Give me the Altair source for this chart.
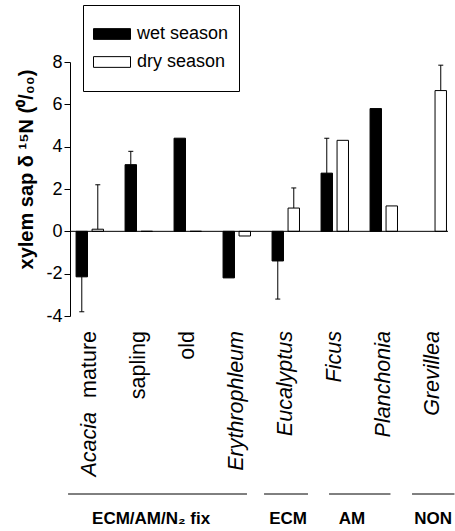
import altair as alt
import pandas as pd

FONT = "Liberation Sans"

# ---- data ----
categories = ["Acacia mature", "sapling", "old", "Erythrophleum",
              "Eucalyptus", "Ficus", "Planchonia", "Grevillea"]
seasons = ["wet season", "dry season"]
wet_values = [-2.15, 3.15, 4.4, -2.2, -1.4, 2.75, 5.8, None]
wet_err_end = [-3.8, 3.78, None, None, -3.2, 4.4, None, None]
dry_values = [0.1, 0.0, 0.0, -0.22, 1.1, 4.3, 1.2, 6.65]
dry_err_end = [2.2, None, None, None, 2.05, None, None, 7.85]
y_ticks = [-4, -2, 0, 2, 4, 6, 8]

italic_labels = ["", "", "", "Erythrophleum", "Eucalyptus", "Ficus", "Planchonia", "Grevillea"]
plain_labels = ["mature", "sapling", "old", "", "", "", "", ""]
acacia_label = ["Acacia"]
acacia_category = ["Acacia mature"]

groups = ["ECM/AM/N₂ fix", "ECM", "AM", "NON"]
group_first = ["Acacia mature", "Eucalyptus", "Ficus", "Grevillea"]
group_last = ["Erythrophleum", "Eucalyptus", "Planchonia", "Grevillea"]

# ---- tables ----
rows = []
for c, w, we, d, de in zip(categories, wet_values, wet_err_end, dry_values, dry_err_end):
    if w is not None:
        rows.append({"category": c, "season": "wet season", "value": w, "err": we})
    if d is not None:
        rows.append({"category": c, "season": "dry season", "value": d, "err": de})
bars_df = pd.DataFrame(rows)
err_df = bars_df.dropna(subset=["err"]).reset_index(drop=True)
lab_df = pd.DataFrame({"category": categories, "italic": italic_labels, "plain": plain_labels})
acacia_df = pd.DataFrame({"category": acacia_category, "text": acacia_label})
grp_df = pd.DataFrame({"group": groups, "first": group_first, "last": group_last})

W, H = 378, 254

x_scale = alt.Scale(domain=categories, paddingInner=0.44, paddingOuter=0.0774, align=0.8)
xo_scale = alt.Scale(domain=seasons, paddingInner=0.285, paddingOuter=0)
y_scale = alt.Scale(domain=[-4, 8], nice=False)

X = alt.X("category:N", scale=x_scale, axis=None)
XO = alt.XOffset("season:N", scale=xo_scale)

y_axis = alt.Axis(
    values=y_ticks, labelExpr="'' + datum.value",
    title="xylem sap δ ¹⁵N (⁰/₀₀)", titleFont=FONT, titleFontSize=20,
    titleFontWeight="bold", titleColor="black", titleAngle=270,
    titleX=-38, titleY=107, titleAlign="center", titleBaseline="alphabetic",
    labelFont=FONT, labelFontSize=18, labelColor="black", labelPadding=2,
    tickColor="black", tickSize=6, domainColor="black", grid=False,
)

legend = alt.Legend(
    title=" ", titleOrient="bottom", titleFontSize=6, titlePadding=4,
    orient="none", legendX=13, legendY=-57, direction="vertical",
    symbolType="M-1,-0.29H1V0.29H-1Z", symbolSize=1369,
    symbolStrokeColor="black", symbolStrokeWidth=1, symbolOpacity=1,
    labelFont=FONT, labelFontSize=18, labelColor="black", labelOffset=6,
    labelExpr="datum.label + '  '",
    rowPadding=0, padding=10, strokeColor="black", fillColor="white",
)

bars = alt.Chart(bars_df).mark_bar(stroke="black", strokeWidth=1).encode(
    x=X, xOffset=XO,
    y=alt.Y("value:Q", scale=y_scale, axis=y_axis, stack=None),
    fill=alt.Fill("season:N", scale=alt.Scale(domain=seasons, range=["black", "white"]),
                  legend=legend),
)

err_rule = alt.Chart(err_df).mark_rule(color="black", strokeWidth=1).encode(
    x=X, xOffset=XO, y=alt.Y("value:Q", scale=y_scale), y2="err:Q"
)
err_cap = alt.Chart(err_df).mark_tick(color="black", thickness=1, size=5, opacity=1).encode(
    x=X, xOffset=XO, y=alt.Y("err:Q", scale=y_scale)
)

zero_line = alt.Chart(pd.DataFrame({"z": [0]})).mark_rule(color="black", strokeWidth=1).encode(
    y=alt.Y("z:Q", scale=y_scale)
)

italic_text = alt.Chart(lab_df).mark_text(
    angle=270, align="right", baseline="middle", font=FONT, fontSize=21.5,
    fontStyle="italic", color="black"
).encode(x=X, y=alt.value(269), text="italic:N")

plain_text = alt.Chart(lab_df).mark_text(
    angle=270, align="right", baseline="middle", font=FONT, fontSize=21.5, color="black"
).encode(x=X, y=alt.value(269), text="plain:N")

acacia_text = alt.Chart(acacia_df).mark_text(
    angle=270, align="right", baseline="middle", font=FONT, fontSize=21.5,
    fontStyle="italic", color="black"
).encode(x=X, y=alt.value(350), text="text:N")

line_offsets = [(-8, -3.5), (-8, 8.5), (8, -7), (-7, 8)]
label_dx = [75, 16, 31, 14]
bracket_layers = []
for i, g in enumerate(groups):
    sub = grp_df[grp_df["group"] == g]
    xo, x2o = line_offsets[i]
    bracket_layers.append(
        alt.Chart(sub).mark_rule(color="black", strokeWidth=1, xOffset=xo, x2Offset=x2o).encode(
            x=alt.X("first:N", scale=x_scale, axis=None, bandPosition=0),
            x2=alt.X2("last:N", bandPosition=1),
            y=alt.value(432),
        )
    )
    bracket_layers.append(
        alt.Chart(sub).mark_text(
            font=FONT, fontSize=17, fontWeight="bold", color="black",
            align="center", baseline="middle", dx=label_dx[i]
        ).encode(
            x=alt.X("first:N", scale=x_scale, axis=None, bandPosition=0),
            y=alt.value(457),
            text="group:N",
        )
    )

chart = alt.layer(
    bars, zero_line, err_rule, err_cap, italic_text, plain_text, acacia_text, *bracket_layers
).properties(
    width=W, height=H,
    autosize=alt.AutoSizeParams(type="none"),
    padding={"left": 70, "top": 62, "right": 7, "bottom": 215},
).configure_view(stroke=None)

chart.save("out.html", embed_options={"renderer": "svg", "actions": False})
